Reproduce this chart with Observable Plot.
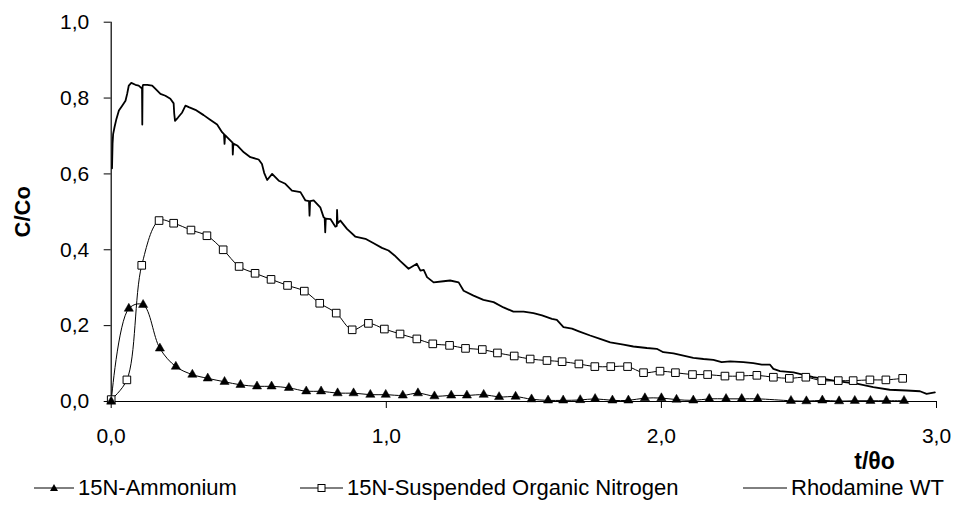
<!DOCTYPE html>
<html><head><meta charset="utf-8">
<script src="https://cdn.jsdelivr.net/npm/d3@7"></script>
<script src="https://cdn.jsdelivr.net/npm/@observablehq/plot@0.6"></script>
<style>
body{margin:0;background:#fff;font-family:"Liberation Sans",Arial,sans-serif;}
#wrap{position:relative;width:954px;height:506px;overflow:hidden;}
#legend{position:absolute;left:0;top:470px;width:954px;height:36px;font-size:22px;color:#000;}
.item{position:absolute;top:0;height:36px;display:flex;align-items:center;white-space:nowrap;}
.item svg{margin-right:4px;}
</style></head><body><div id="wrap"><div id="chart"></div><div id="legend"></div></div>
<script>
// 15N-Ammonium (triangles)
const ammoniumX = [0,0.064,0.116,0.177,0.235,0.295,0.351,0.412,0.470,0.530,0.583,0.646,0.709,0.763,0.823,0.881,0.942,0.998,1.06,1.115,1.175,1.236,1.293,1.354,1.41,1.47,1.528,1.588,1.643,1.705,1.759,1.822,1.88,1.94,2.0,2.055,2.116,2.174,2.235,2.292,2.35,2.471,2.527,2.585,2.646,2.703,2.76,2.818,2.882];
const ammoniumY = [0,0.245,0.255,0.140,0.092,0.071,0.061,0.052,0.044,0.040,0.040,0.036,0.027,0.027,0.022,0.022,0.018,0.018,0.016,0.022,0.014,0.016,0.016,0.018,0.012,0.013,0.006,0.003,0.003,0.004,0.007,0.003,0.003,0.009,0.009,0.005,0.003,0.007,0.007,0.007,0.007,0.002,0.001,0.003,0.001,0.002,0.002,0.002,0.002];
// 15N-Suspended Organic Nitrogen (open squares)
const organicX = [0,0.057,0.111,0.174,0.227,0.29,0.348,0.407,0.465,0.523,0.581,0.641,0.702,0.758,0.818,0.876,0.935,0.993,1.05,1.111,1.169,1.23,1.288,1.349,1.404,1.465,1.523,1.584,1.639,1.70,1.758,1.816,1.877,1.935,1.995,2.051,2.113,2.168,2.231,2.286,2.347,2.407,2.465,2.525,2.583,2.643,2.697,2.758,2.816,2.877];
const organicY = [0.005,0.057,0.359,0.477,0.470,0.452,0.437,0.400,0.356,0.338,0.322,0.306,0.291,0.259,0.233,0.189,0.206,0.191,0.178,0.165,0.152,0.148,0.140,0.137,0.128,0.120,0.112,0.108,0.105,0.099,0.092,0.092,0.092,0.076,0.080,0.076,0.071,0.071,0.067,0.067,0.069,0.064,0.061,0.064,0.055,0.055,0.055,0.057,0.057,0.061];
// Rhodamine WT (line)
const rhodamineX = [0.003,0.005,0.007,0.012,0.019,0.028,0.040,0.052,0.058,0.064,0.073,0.088,0.100,0.109,0.112,0.113,0.114,0.116,0.131,0.149,0.161,0.179,0.197,0.215,0.227,0.229,0.232,0.242,0.258,0.270,0.282,0.306,0.336,0.361,0.385,0.403,0.410,0.412,0.414,0.421,0.440,0.441,0.442,0.444,0.458,0.482,0.506,0.536,0.548,0.556,0.567,0.585,0.609,0.633,0.657,0.688,0.706,0.719,0.721,0.723,0.736,0.760,0.772,0.776,0.778,0.780,0.797,0.815,0.820,0.821,0.823,0.833,0.857,0.887,0.924,0.954,0.984,1.008,1.03,1.051,1.081,1.111,1.124,1.136,1.148,1.172,1.208,1.232,1.263,1.281,1.317,1.353,1.390,1.426,1.462,1.499,1.535,1.566,1.602,1.620,1.644,1.675,1.70,1.741,1.777,1.814,1.862,1.898,1.947,1.983,2.007,2.044,2.080,2.116,2.153,2.189,2.219,2.250,2.298,2.334,2.365,2.395,2.407,2.431,2.48,2.552,2.637,2.71,2.77,2.83,2.891,2.94,2.964,2.994];
const rhodamineY = [0.615,0.68,0.705,0.723,0.745,0.767,0.780,0.793,0.811,0.833,0.840,0.835,0.833,0.827,0.827,0.730,0.830,0.835,0.835,0.833,0.824,0.811,0.806,0.798,0.786,0.760,0.740,0.748,0.762,0.780,0.776,0.769,0.755,0.742,0.730,0.710,0.705,0.679,0.702,0.697,0.683,0.683,0.651,0.680,0.675,0.657,0.644,0.638,0.626,0.603,0.584,0.600,0.582,0.574,0.556,0.552,0.530,0.528,0.490,0.528,0.530,0.512,0.486,0.484,0.446,0.482,0.481,0.461,0.463,0.505,0.470,0.477,0.455,0.435,0.429,0.417,0.405,0.398,0.385,0.370,0.350,0.363,0.345,0.347,0.328,0.314,0.317,0.319,0.314,0.292,0.279,0.268,0.262,0.248,0.237,0.237,0.233,0.227,0.218,0.215,0.196,0.192,0.185,0.174,0.165,0.156,0.150,0.145,0.141,0.139,0.130,0.127,0.121,0.115,0.112,0.110,0.104,0.106,0.104,0.101,0.097,0.097,0.086,0.080,0.077,0.064,0.054,0.047,0.038,0.031,0.029,0.027,0.020,0.024];
const xTicks = [0, 1, 2, 3];
const yTicks = [0, 0.2, 0.4, 0.6, 0.8, 1.0];
const seriesNames = ["15N-Ammonium", "15N-Suspended Organic Nitrogen", "Rhodamine WT"];
const xTitle = "t/θo";
const yTitle = "C/Co";

const ammonium = ammoniumX.map((x, i) => ({x, y: ammoniumY[i]}));
const organic = organicX.map((x, i) => ({x, y: organicY[i]}));
const rhodamine = rhodamineX.map((x, i) => ({x, y: rhodamineY[i]}));
const fmt = d => d.toFixed(1).replace(".", ",");

const plot = Plot.plot({
  width: 954, height: 470,
  marginLeft: 110.7, marginRight: 18, marginTop: 21.7, marginBottom: 69,
  style: {fontFamily: "'Liberation Sans', Arial, sans-serif", fontSize: "21px", color: "#000", background: "#fff", overflow: "visible"},
  x: {domain: [0, 3]},
  y: {domain: [0, 1]},
  marks: [
    Plot.axisX({ticks: xTicks, tickFormat: fmt, tickSize: 7, tickPadding: 20, label: null, stroke: "#000"}),
    Plot.axisY({ticks: yTicks, tickFormat: fmt, tickSize: 7, tickPadding: 15, label: null, stroke: "#000"}),
    Plot.ruleX([0], {stroke: "#000", strokeWidth: 1.2}),
    Plot.ruleY([0], {stroke: "#000", strokeWidth: 1.2}),
    Plot.line(rhodamine, {x: "x", y: "y", stroke: "#000", strokeWidth: 1.8}),
    Plot.line(organic, {x: "x", y: "y", stroke: "#000", strokeWidth: 1, curve: "catmull-rom"}),
    Plot.line(ammonium, {x: "x", y: "y", stroke: "#000", strokeWidth: 1, curve: "catmull-rom"}),
    Plot.dot(organic, {x: "x", y: "y", symbol: "square", r: 4.3, fill: "#fff", stroke: "#000", strokeWidth: 1}),
    Plot.dot(ammonium, {x: "x", y: "y", symbol: "triangle", r: 3.4, fill: "#000", stroke: "#000", strokeWidth: 0.5}),
    Plot.text([yTitle], {frameAnchor: "left", text: d => d, rotate: -90, dx: -88.7, fontWeight: "bold", fontSize: 22, textAnchor: "middle", lineAnchor: "middle"}),
    Plot.text([xTitle], {frameAnchor: "bottom-right", text: d => d, dx: -62, dy: 60, fontWeight: "bold", fontSize: 23, textAnchor: "middle", lineAnchor: "middle"})
  ]
});
document.getElementById("chart").appendChild(plot);

// legend
const legend = document.getElementById("legend");
const items = [
  {name: seriesNames[0], left: 34, icon: `<svg width="40" height="12"><line x1="0" y1="6" x2="40" y2="6" stroke="#000"/><path d="M20,2 L24,9 L16,9 Z" fill="#000"/></svg>`},
  {name: seriesNames[1], left: 300, icon: `<svg width="43" height="12"><line x1="0" y1="6" x2="43" y2="6" stroke="#000"/><rect x="18" y="2.5" width="7" height="7" fill="#fff" stroke="#000"/></svg>`},
  {name: seriesNames[2], left: 743, icon: `<svg width="44" height="12"><line x1="0" y1="6" x2="44" y2="6" stroke="#000"/></svg>`}
];
for (const it of items) {
  const d = document.createElement("div");
  d.className = "item";
  d.style.left = it.left + "px";
  d.innerHTML = it.icon + `<span>${it.name}</span>`;
  legend.appendChild(d);
}
</script></body></html>
